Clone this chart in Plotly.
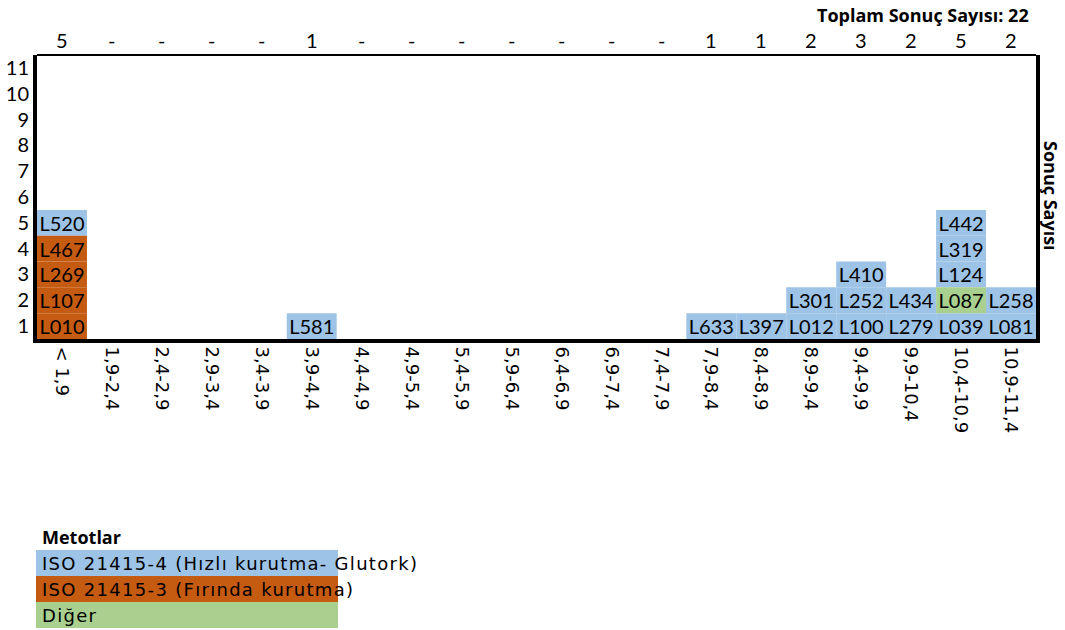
import plotly.graph_objects as go

# ---- data ----
categories = ["< 1,9", "1,9-2,4", "2,4-2,9", "2,9-3,4", "3,4-3,9", "3,9-4,4",
              "4,4-4,9", "4,9-5,4", "5,4-5,9", "5,9-6,4", "6,4-6,9", "6,9-7,4",
              "7,4-7,9", "7,9-8,4", "8,4-8,9", "8,9-9,4", "9,4-9,9", "9,9-10,4",
              "10,4-10,9", "10,9-11,4"]

# results listed bottom-to-top within each bin
result_bins = ["< 1,9", "< 1,9", "< 1,9", "< 1,9", "< 1,9",
               "3,9-4,4",
               "7,9-8,4",
               "8,4-8,9",
               "8,9-9,4", "8,9-9,4",
               "9,4-9,9", "9,4-9,9", "9,4-9,9",
               "9,9-10,4", "9,9-10,4",
               "10,4-10,9", "10,4-10,9", "10,4-10,9", "10,4-10,9", "10,4-10,9",
               "10,9-11,4", "10,9-11,4"]
result_codes = ["L010", "L107", "L269", "L467", "L520",
                "L581",
                "L633",
                "L397",
                "L012", "L301",
                "L100", "L252", "L410",
                "L279", "L434",
                "L039", "L087", "L124", "L319", "L442",
                "L081", "L258"]
result_methods = ["ISO3", "ISO3", "ISO3", "ISO3", "ISO4",
                  "ISO4",
                  "ISO4",
                  "ISO4",
                  "ISO4", "ISO4",
                  "ISO4", "ISO4", "ISO4",
                  "ISO4", "ISO4",
                  "ISO4", "OTHER", "ISO4", "ISO4", "ISO4",
                  "ISO4", "ISO4"]

method_keys = ["ISO4", "ISO3", "OTHER"]
method_names = ["ISO 21415-4 (Hızlı kurutma- Glutork)",
                "ISO 21415-3 (Fırında kurutma)",
                "Diğer"]
method_colors = ["#9DC3E6", "#C55A11", "#A9D08E"]

y_ticks = list(range(1, 12))

# ---- compute stacking rows ----
rows = []
counter = {}
for b in result_bins:
    counter[b] = counter.get(b, 0) + 1
    rows.append(counter[b])
counts = [counter.get(c, 0) for c in categories]
total = len(result_codes)

fig = go.Figure()
for key, color in zip(method_keys, method_colors):
    xs, bases, txt = [], [], []
    for b, r, c, m in zip(result_bins, rows, result_codes, result_methods):
        if m == key:
            xs.append(b)
            bases.append(r - 0.5)
            txt.append(c)
    fig.add_trace(go.Bar(
        x=xs, y=[1] * len(xs), base=bases, width=1,
        marker=dict(color=color, line=dict(width=0)),
        text=txt, textposition="inside", insidetextanchor="middle",
        textfont=dict(family="Lato", size=20, color="black"),
        constraintext="none", showlegend=False, hoverinfo="skip"))

# plot-area geometry (px)
L, R, T, B = 37, 29, 55, 291
W, H = 1065, 630
pw, ph = W - L - R, H - T - B

def px(xp):
    return (xp - L) / pw

def py(yp):
    return (H - B - yp) / ph

annotations = []
# counts on top
for c, n in zip(categories, counts):
    annotations.append(dict(x=c, xref="x", y=py(40), yref="paper",
                            xanchor="center", yanchor="middle",
                            text=str(n) if n else "-", showarrow=False,
                            font=dict(family="Lato", size=20, color="black")))
# title
annotations.append(dict(x=px(1031), xref="paper", y=py(15), yref="paper",
                        xanchor="right", yanchor="middle",
                        text=f"<b>Toplam Sonuç Sayısı: {total}</b>",
                        showarrow=False, font=dict(family="Open Sans", size=18, color="black")))
# right axis title
annotations.append(dict(x=px(1051), xref="paper", y=py(196), yref="paper",
                        xanchor="center", yanchor="middle",
                        text="<b>Sonuç Sayısı</b>", textangle=90, showarrow=False,
                        font=dict(family="Open Sans", size=18, color="black")))
# legend
annotations.append(dict(x=px(40), xref="paper", y=py(537), yref="paper",
                        xanchor="left", yanchor="middle",
                        text="<b>Metotlar</b>", showarrow=False,
                        font=dict(family="Open Sans", size=18, color="black")))
shapes = []
for i, (name, color) in enumerate(zip(method_names, method_colors)):
    y0 = 550 + i * 26
    shapes.append(dict(type="rect", xref="paper", yref="paper",
                       x0=px(36), x1=px(338), y0=py(y0), y1=py(y0 + 26),
                       fillcolor=color, line=dict(width=0), layer="below"))
    annotations.append(dict(x=px(40), xref="paper", y=py(y0 + 13), yref="paper",
                            xanchor="left", yanchor="middle",
                            text=f"<span style='letter-spacing:1.3px'>{name}</span>",
                            showarrow=False,
                            font=dict(family="DejaVu Sans", size=18, color="black")))
# thin top border
shapes.append(dict(type="line", xref="paper", yref="paper", x0=0, x1=1, y0=1, y1=1,
                   line=dict(color="black", width=2)))

fig.update_layout(
    width=W, height=H,
    margin=dict(l=L, r=R, t=T, b=B, autoexpand=False),
    paper_bgcolor="white", plot_bgcolor="white",
    barmode="overlay",
    annotations=annotations, shapes=shapes,
    xaxis=dict(type="category", categoryorder="array", categoryarray=categories,
               range=[-0.5, len(categories) - 0.5], tickangle=90, automargin=False,
               showgrid=False, zeroline=False, showline=True, linecolor="black",
               linewidth=4, ticks="", ticklabelstandoff=0,
               tickfont=dict(family="DejaVu Sans", size=18, color="black")),
    yaxis=dict(range=[0.5, 11.5], tickvals=y_ticks, ticktext=[str(v) for v in y_ticks],
               showgrid=False, zeroline=False, showline=True, mirror=True, automargin=False,
               linecolor="black", linewidth=4, ticks="", ticklabelstandoff=0,
               tickfont=dict(family="Lato", size=20, color="black")),
)

fig.write_html("out.html", config={"displayModeBar": False},
               post_script="document.body.style.margin='0';document.body.style.overflow='hidden';")
